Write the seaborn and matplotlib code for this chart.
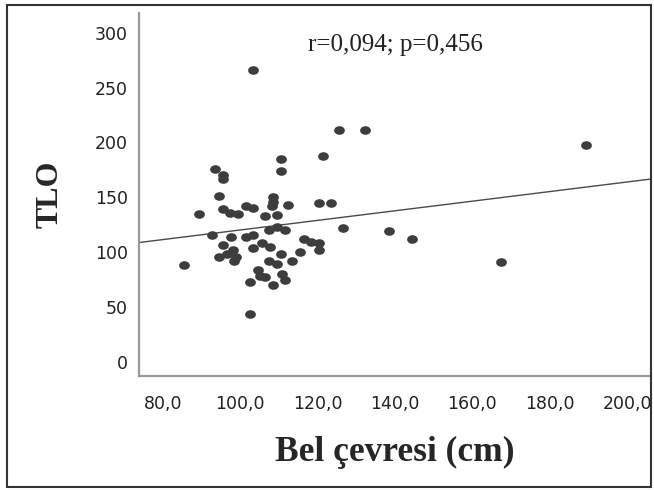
import numpy as np
import pandas as pd
import seaborn as sns
import matplotlib
matplotlib.use("Agg")
import matplotlib.pyplot as plt
from matplotlib.path import Path
from matplotlib.transforms import Affine2D
from matplotlib.patches import Rectangle

##DATA
bel_cevresi = [103.4, 125.4, 132.3, 121.5, 110.4, 110.4, 93.4, 95.4, 95.5, 94.6,
               108.4, 108.4, 108.3, 112.4, 120.4, 123.4, 89.4, 95.4, 97.3, 99.5,
               101.4, 103.4, 106.5, 109.4, 92.6, 97.5, 101.5, 103.4, 107.5, 109.4,
               111.5, 126.5, 95.6, 98.2, 96.5, 94.6, 98.9, 98.4, 103.4, 105.5,
               107.7, 110.4, 116.5, 118.4, 120.4, 120.4, 115.4, 113.4, 107.5, 109.6,
               104.5, 105.1, 106.4, 102.5, 108.4, 110.7, 111.5, 102.5, 85.5, 189.3,
               138.4, 144.3, 167.3]
tlo = [266, 211, 211, 188, 185, 174, 176, 170, 167, 151,
       150, 146, 142, 143, 145, 145, 135, 139, 136, 135,
       142, 140, 133, 134, 116, 114, 114, 116, 120, 123,
       120, 122, 107, 102, 98, 96, 96, 92, 104, 108,
       105, 98, 112, 109, 108, 102, 100, 92, 92, 89,
       84, 78, 77, 73, 70, 80, 75, 44, 88, 198,
       119, 112, 91]

#FIT LINE ENDPOINTS (as drawn in the picture)
fit_x = [73.8, 206.2]
fit_y = [108.8, 166.7]

x_ticks = [80, 100, 120, 140, 160, 180, 200]
x_tick_labels = ['80,0', '100,0', '120,0', '140,0', '160,0', '180,0', '200,0']
y_ticks = [0, 50, 100, 150, 200, 250, 300]

df = pd.DataFrame({'Bel': bel_cevresi, 'TLO': tlo})

sns.set_style('white')
plt.rcParams['font.family'] = ['DejaVu Sans']

fig = plt.figure(figsize=(6.54, 4.90), dpi=100)
ax = fig.add_axes([0.2125, 0.2327, 0.783, 0.7408])

#SLIGHTLY WIDE DOT LIKE THE ORIGINAL
ell = Path.unit_circle().transformed(Affine2D().scale(1.0, 0.8))

sns.scatterplot(data=df, x='Bel', y='TLO', ax=ax, marker=ell, s=60,
                color='#3d3d3d', linewidth=0, zorder=3)
sns.lineplot(x=fit_x, y=fit_y, ax=ax, color='#4a4a4a', linewidth=1.0, zorder=2)

ax.set_xlim(73.8, 206.2)
ax.set_ylim(-12.8, 318)
ax.set_xticks(x_ticks)
ax.set_xticklabels(x_tick_labels)
ax.set_yticks(y_ticks)
ax.tick_params(axis='both', length=0, labelsize=12.5, labelcolor='#222222')
ax.tick_params(axis='x', pad=14)
ax.tick_params(axis='y', pad=8)

for side in ['top', 'right']:
    ax.spines[side].set_visible(False)
for side in ['left', 'bottom']:
    ax.spines[side].set_color('#9a9a9a')
    ax.spines[side].set_linewidth(1.6)

ax.set_xlabel('Bel çevresi (cm)', family='Liberation Serif', fontweight='bold',
              fontsize=25.5, labelpad=16)
ax.set_ylabel('TLO', family='Liberation Serif', fontweight='bold',
              fontsize=23, labelpad=22)

ax.text(0.5, 0.912, 'r=0,094; p=0,456', transform=ax.transAxes, ha='center',
        va='center', family='Liberation Serif', fontsize=18, color='#222222')

#OUTER FRAME
fig.patches.append(Rectangle((7 / 654, 3 / 490), 644 / 654, 482 / 490,
                             transform=fig.transFigure, fill=False,
                             edgecolor='#333333', linewidth=1.5))

fig.savefig('out.png', dpi=100)
